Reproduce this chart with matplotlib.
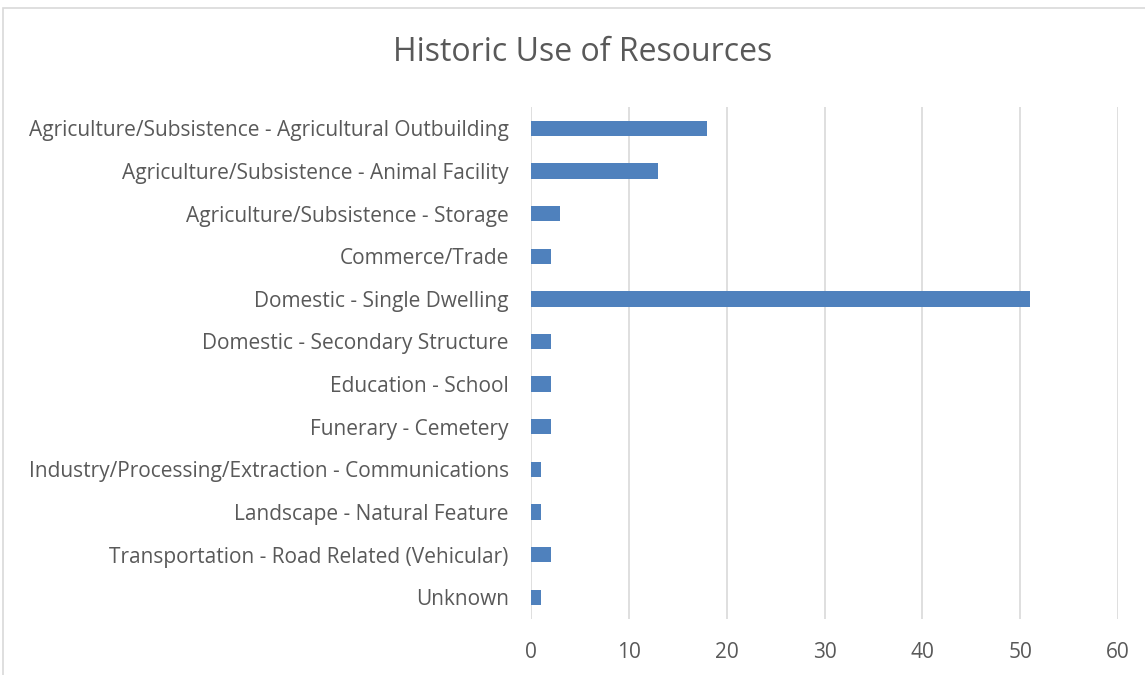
import matplotlib
matplotlib.use("Agg")
import matplotlib.pyplot as plt
from matplotlib.patches import Rectangle

categories = [
    "Agriculture/Subsistence - Agricultural Outbuilding",
    "Agriculture/Subsistence - Animal Facility",
    "Agriculture/Subsistence - Storage",
    "Commerce/Trade",
    "Domestic - Single Dwelling",
    "Domestic - Secondary Structure",
    "Education - School",
    "Funerary - Cemetery",
    "Industry/Processing/Extraction - Communications",
    "Landscape - Natural Feature",
    "Transportation - Road Related (Vehicular)",
    "Unknown",
]
counts = [18, 13, 3, 2, 51, 2, 2, 2, 1, 1, 2, 1]
x_ticks = [0, 10, 20, 30, 40, 50, 60]

plt.rcParams['font.family'] = ['Open Sans', 'DejaVu Sans']
text_color = '#595959'

fig = plt.figure(figsize=(11.45, 6.75), dpi=100)
ax = fig.add_axes([0.4638, 0.0836, 0.5126, 0.7579])

# chart frame
fig.patches.append(Rectangle((0.003, -0.05), 1.1, 1.038, transform=fig.transFigure,
                             fill=False, edgecolor='#d9d9d9', linewidth=1.2))

y = list(range(len(categories)))
ax.barh(y, counts, height=0.36, color='#4f81bd', zorder=3)
ax.set_ylim(len(categories) - 0.5, -0.5)
ax.set_xlim(0, 60)
ax.set_xticks(x_ticks)
ax.set_yticks(y)
ax.set_yticklabels(categories)
ax.grid(axis='x', color='#d9d9d9', linewidth=1.2, zorder=0)
for s in ax.spines.values():
    s.set_visible(False)
ax.tick_params(axis='both', length=0, colors=text_color, labelsize=15)
ax.tick_params(axis='x', pad=17)
ax.tick_params(axis='y', pad=16)

fig.text(0.509, 0.922, "Historic Use of Resources", ha='center', va='center',
         fontsize=23, color=text_color)

fig.savefig("out.png", dpi=100)
